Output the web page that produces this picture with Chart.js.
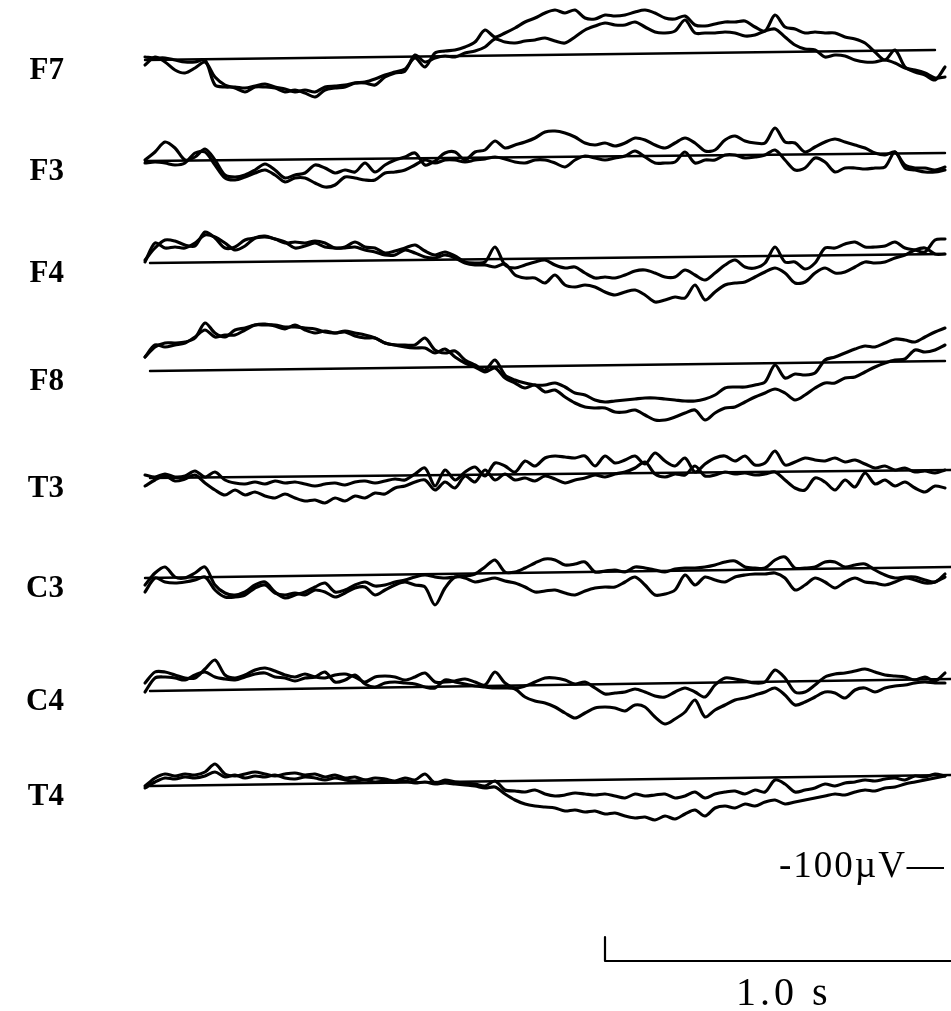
<!DOCTYPE html>
<html>
<head>
  <meta charset="UTF-8">
  <title>EEG F7-T4</title>
  <script src="https://cdn.jsdelivr.net/npm/chart.js"></script>
  <style>
    html, body { margin: 0; padding: 0; background: #fff; }
    canvas { display: block; }
  </style>
</head>
<body>
  <canvas id="grafico" width="951" height="1011"></canvas>

  <script>
    // canais e posição de cada traçado no eixo empilhado (µV)
    const CHANNELS = ['F7', 'F3', 'F4', 'F8', 'T3', 'C3', 'C4', 'T4'];
    const LEVELS = [-60, -161, -263, -371, -478, -578, -691, -786];
    const DRIFT = [10, 8, 9, 10, 8, 11, 12, 11];            // subida da linha de base
    const BASE_START = [0, 0, 0.0125, 0.0125, 0.0125, 0, 0.0125, 0.0125];
    const BASE_END = [1.975, 2.0, 2.0, 2.0, 2.015, 2.015, 2.015, 2.015];
    const LABEL_DROP = 11;

    const SAMPLE_STEP = 0.025; // s

    // deflexões (µV) a cada 25 ms, de 0 a 2.0 s
    const F7_A = [3,2,2,0,-2,-2,0,-25,-27,-27,
      -28,-26,-24,-27,-29,-32,-30,-32,-27,-26,
      -25,-23,-22,-19,-15,-12,-9,2,-7,7,
      9,10,13,18,30,23,27,32,38,42,
      47,50,47,50,42,41,45,44,45,48,
      50,47,42,41,44,35,34,36,38,38,
      39,33,29,45,33,31,27,28,27,27,
      23,21,17,8,0,10,-7,-12,-15,-20,
      -7];
    const F7_B = [-5,3,-2,-10,-13,-8,-2,-17,-25,-28,
      -32,-27,-27,-28,-32,-30,-33,-37,-30,-28,
      -27,-23,-23,-25,-17,-13,-11,5,-2,2,
      4,3,7,9,13,21,18,17,19,20,
      22,19,17,23,30,34,37,35,35,38,
      33,28,27,29,40,27,27,27,28,27,
      24,25,29,31,23,15,11,10,3,5,
      4,0,-2,-2,0,-3,-8,-10,-13,-18,
      -17];

    const F3_A = [1,9,19,13,1,4,12,1,-14,-16,
      -14,-9,-3,-9,-17,-14,-12,-4,-7,-12,
      -9,-11,-2,-11,-4,1,4,8,-4,0,
      8,9,1,9,11,20,13,16,19,23,
      29,30,28,24,18,16,18,15,18,23,
      21,16,13,18,23,18,10,11,21,25,
      20,18,18,33,19,18,9,14,19,22,
      19,16,13,8,6,9,-4,-7,-7,-9,
      -6];
    const F3_B = [-2,-1,-2,-4,-2,8,9,-4,-17,-19,
      -16,-12,-9,-14,-21,-17,-17,-22,-26,-24,
      -16,-17,-19,-19,-12,-11,-9,-4,1,-2,
      1,1,-1,1,2,4,2,-1,-2,1,
      1,-2,-6,1,5,3,1,3,5,10,
      4,-2,-2,-1,9,-2,1,1,6,6,
      3,4,6,11,1,-9,-7,3,-1,-11,
      -7,-7,-8,-7,-6,9,-7,-9,-11,-11,
      -9];

    const F4_A = [3,15,23,22,18,17,31,25,15,16,
      23,25,26,24,20,21,20,22,20,15,
      16,21,16,15,10,12,15,18,12,8,
      11,7,1,0,1,16,-2,-5,-2,1,
      3,-2,-5,-4,-10,-15,-14,-15,-12,-8,
      -7,-10,-14,-14,-7,-12,-17,-10,-2,3,
      -4,-5,0,16,1,1,-6,0,15,15,
      19,21,16,16,17,21,15,13,11,23,
      24];
    const F4_B = [1,20,15,16,15,20,28,26,20,13,
      17,25,27,24,21,15,17,20,16,15,
      15,16,13,11,8,8,13,10,6,5,
      8,5,0,-2,-2,-4,-1,-12,-15,-15,
      -20,-12,-22,-24,-22,-24,-29,-32,-29,-27,
      -32,-39,-37,-34,-35,-22,-37,-29,-22,-20,
      -19,-14,-9,-5,-10,-20,-19,-10,-5,-10,
      -9,-4,1,0,1,5,8,13,15,9,
      9];

    const F8_A = [14,24,28,28,29,33,48,38,34,41,
      43,46,46,46,44,44,43,42,39,38,
      40,38,36,33,28,26,26,26,33,21,
      18,20,11,6,1,11,-4,-9,-12,-14,
      -14,-12,-16,-22,-24,-29,-31,-30,-29,-28,
      -27,-27,-28,-29,-30,-30,-28,-24,-17,-16,
      -16,-14,-11,6,-7,-3,-4,-2,11,14,
      18,22,25,24,28,32,31,29,34,39,
      43];
    const F8_B = [14,26,24,26,28,34,41,34,36,36,
      41,46,47,45,42,46,41,38,40,38,
      39,35,33,33,28,26,24,23,23,18,
      22,14,8,4,-1,3,-7,-12,-17,-14,
      -21,-19,-26,-32,-36,-37,-37,-41,-41,-39,
      -44,-49,-49,-46,-42,-39,-49,-42,-37,-36,
      -31,-26,-22,-18,-22,-29,-24,-17,-12,-12,
      -7,-6,-1,4,8,11,12,21,19,21,
      26];

    const T3_A = [3,1,4,1,2,7,1,6,-2,-5,
      -6,-4,-6,-3,-5,-4,-6,-8,-6,-5,
      -7,-4,-3,-5,-3,-1,-2,4,10,-8,
      8,-2,6,11,2,15,12,6,17,12,
      20,22,21,20,22,12,22,15,18,22,
      14,25,17,12,20,6,14,20,22,17,
      22,13,15,27,13,16,20,18,17,20,
      16,18,14,10,12,8,10,6,7,5,
      8];
    const T3_B = [-8,-2,2,-3,-1,3,-5,-12,-17,-12,
      -17,-14,-18,-20,-16,-20,-23,-22,-25,-20,
      -23,-18,-20,-15,-16,-10,-8,-4,-2,-12,
      -4,-10,2,-4,8,-2,4,-2,0,-3,
      2,-1,-5,-2,0,3,1,4,6,10,
      16,4,1,4,3,12,2,3,6,4,
      5,3,4,6,-2,-10,-12,0,-4,-12,
      -2,-9,5,-6,-2,-8,-4,-10,-14,-8,
      -10];

    const C3_A = [-7,5,11,1,0,5,11,-7,-15,-17,
      -14,-7,-4,-14,-20,-17,-14,-9,-5,-14,
      -12,-7,-4,-8,-7,-4,-2,1,3,1,
      0,1,2,4,11,18,6,6,10,15,
      19,18,13,14,16,6,7,8,6,11,
      10,8,6,9,10,10,11,13,16,17,
      11,10,10,18,21,10,10,11,16,16,
      11,13,14,8,3,0,1,1,-2,-4,
      4];
    const C3_B = [-14,0,-4,-5,-4,-2,1,-12,-19,-19,
      -17,-10,-7,-15,-17,-15,-17,-12,-14,-19,
      -15,-10,-9,-17,-12,-7,-4,-7,-9,-27,
      -10,1,0,-4,-2,0,-3,-5,-9,-14,
      -13,-12,-15,-17,-13,-10,-9,-9,-4,1,
      -7,-17,-16,-12,3,-7,1,-2,-4,1,
      3,4,4,5,0,-12,-7,0,-4,-10,
      -4,0,-4,-5,-7,-4,0,-2,-5,-4,
      1];

    const C4_A = [8,19,19,16,13,13,22,31,16,13,
      16,21,23,20,16,14,17,14,13,16,
      17,14,9,14,15,14,11,14,18,9,
      9,10,12,9,6,19,8,3,5,9,
      13,13,11,7,9,3,-3,-2,-1,2,
      -1,-5,-6,-1,3,-1,-6,6,13,12,
      10,8,9,21,13,-1,-1,6,14,17,
      18,20,22,19,16,15,14,11,14,10,
      18];
    const C4_B = [-1,13,14,13,11,16,19,14,12,11,
      14,17,18,14,13,10,13,14,19,9,
      11,16,7,4,8,9,8,7,4,3,
      11,9,7,5,4,3,3,2,-6,-10,
      -12,-16,-22,-27,-22,-17,-16,-17,-20,-14,
      -16,-26,-33,-28,-21,-9,-26,-19,-14,-9,
      -7,-4,-1,3,-4,-14,-11,-6,-1,-2,
      -7,1,3,-1,3,5,6,8,9,8,
      8];

    const T4_A = [0,8,12,10,12,11,14,22,12,10,
      12,14,12,10,12,13,11,12,9,11,
      8,9,6,8,7,5,8,6,12,3,
      6,4,3,2,0,5,-4,-5,-6,-4,
      -8,-10,-9,-7,-8,-9,-8,-10,-12,-8,
      -10,-9,-8,-12,-10,-6,-12,-8,-6,-5,
      -8,-4,-6,6,2,-6,-4,-2,2,0,
      3,4,6,5,7,8,6,10,9,12,
      10];
    const T4_B = [-2,4,8,7,9,8,10,14,9,11,
      8,10,9,11,8,7,9,8,6,8,
      6,5,6,4,5,4,5,3,4,2,
      3,2,1,0,-2,-1,-8,-14,-18,-20,
      -21,-22,-25,-24,-26,-25,-28,-27,-30,-32,
      -31,-34,-30,-33,-28,-24,-30,-22,-20,-22,
      -18,-20,-16,-14,-18,-16,-14,-12,-10,-8,
      -9,-6,-4,-5,-2,-1,2,4,6,8,
      10];

    const TRACES_A = [F7_A, F3_A, F4_A, F8_A, T3_A, C3_A, C4_A, T4_A];
    const TRACES_B = [F7_B, F3_B, F4_B, F8_B, T3_B, C3_B, C4_B, T4_B];

    // barra de calibração: 1.0 s
    const SCALE_BAR_T = [1.15, 1.15, 2.15];
    const SCALE_BAR_V = [-937, -961, -961];
    const CAL_AMPLITUDE = '-100µV—';
    const CAL_TIME = '1.0 s';

    const TIMES = F7_A.map((_, i) => +(i * SAMPLE_STEP).toFixed(3));

    function pontos(level, valores) {
      return valores.map((v, i) => ({x: TIMES[i], y: level + v}));
    }

    const datasets = [];
    CHANNELS.forEach((ch, i) => {
      datasets.push({
        label: ch + ' base',
        data: [{x: BASE_START[i], y: LEVELS[i]}, {x: BASE_END[i], y: LEVELS[i] + DRIFT[i]}],
        borderWidth: 2.4,
        tension: 0
      });
      datasets.push({label: ch + ' a', data: pontos(LEVELS[i], TRACES_A[i]), borderWidth: 3.1, tension: 0.3});
      datasets.push({label: ch + ' b', data: pontos(LEVELS[i], TRACES_B[i]), borderWidth: 3.1, tension: 0.3});
    });
    datasets.push({
      label: 'escala',
      data: SCALE_BAR_T.map((t, i) => ({x: t, y: SCALE_BAR_V[i]})),
      borderWidth: 2.2,
      tension: 0
    });

    const calibracao = {
      id: 'calibracao',
      afterDraw(chart) {
        const ctx = chart.ctx;
        ctx.save();
        ctx.fillStyle = '#000';
        ctx.textBaseline = 'alphabetic';
        ctx.font = '37px "Liberation Serif", serif';
        ctx.letterSpacing = '2px';
        ctx.fillText(CAL_AMPLITUDE, 779, 877);
        ctx.font = '40px "Liberation Serif", serif';
        ctx.letterSpacing = '4px';
        ctx.fillText(CAL_TIME, 736, 1005);
        ctx.restore();
      }
    };

    let ctx = document.getElementById('grafico').getContext('2d');
    let chart = new Chart(ctx, {
      type: 'line',
      data: { datasets: datasets },
      options: {
        responsive: false,
        animation: false,
        devicePixelRatio: 1,
        layout: { padding: 0 },
        plugins: {
          legend: { display: false },
          tooltip: { enabled: false }
        },
        elements: {
          point: { radius: 0 },
          line: {
            borderColor: '#000',
            borderCapStyle: 'round',
            borderJoinStyle: 'round',
            fill: false
          }
        },
        scales: {
          x: { type: 'linear', display: false, min: -0.0125, max: 2.015 },
          y: {
            type: 'linear',
            position: 'left',
            min: -1011,
            max: 0,
            grid: { display: false, drawTicks: false },
            border: { display: false },
            ticks: {
              autoSkip: false,
              crossAlign: 'near',
              padding: 76,
              color: '#000',
              font: { family: '"Liberation Serif", serif', size: 31, weight: 'bold' },
              callback: (v, i) => CHANNELS[i]
            },
            afterBuildTicks: axis => {
              axis.ticks = LEVELS.map(l => ({value: l - LABEL_DROP}));
            },
            afterFit: axis => {
              axis.width = 140;
              axis.paddingTop = 0;
              axis.paddingBottom = 0;
            }
          }
        }
      },
      plugins: [calibracao]
    });
  </script>
</body>
</html>
